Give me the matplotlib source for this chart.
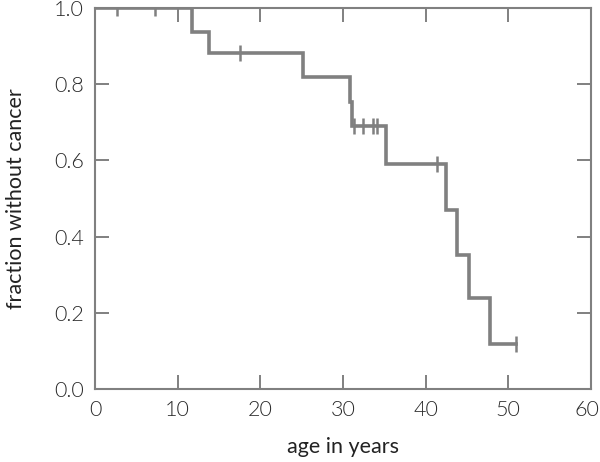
import numpy as np
import matplotlib
matplotlib.use('Agg')
import matplotlib.pyplot as plt
import matplotlib.transforms as mtransforms

# step curve: time at which each drop happens and the level after it
drop_age = [0, 11.7, 13.8, 25.2, 30.8, 31.1, 35.2, 42.5, 43.8, 45.3, 47.8]
surv = [1.0, 0.938, 0.882, 0.820, 0.754, 0.689, 0.591, 0.470, 0.352, 0.240, 0.118]
end_age = 50.9

# censored observations (tick marks)
cens_age = [2.7, 7.3, 17.5, 31.3, 32.4, 33.6, 34.1, 41.4, 50.9]

xticks = [0, 10, 20, 30, 40, 50, 60]
yticks = [0.0, 0.2, 0.4, 0.6, 0.8, 1.0]

plt.rcParams['font.family'] = ['Lato', 'DejaVu Sans']
plt.rcParams['font.weight'] = 300

line_col = '#808080'
fig = plt.figure(figsize=(6.0, 4.62), dpi=100)
ax = fig.add_axes([95/600, 1-389/462, (591-95)/600, (389-8)/462])

x = list(drop_age) + [end_age]
y = list(surv) + [surv[-1]]
ax.step(x, y, where='post', color=line_col, lw=2.6, solid_joinstyle='miter')

# level of the curve at each censored time
cy = []
for c in cens_age:
    idx = np.searchsorted(drop_age, c, side='right') - 1
    cy.append(surv[idx])
ax.plot(cens_age, cy, ls='none', marker='|', ms=11, mew=1.8, color=line_col)

ax.set_xlim(0, 60)
ax.set_ylim(0, 1.0)
ax.set_xticks(xticks)
ax.set_yticks(yticks)
ax.set_yticklabels(['%.1f' % v for v in yticks])
ax.tick_params(direction='in', length=10, width=1.4, color=line_col,
               top=True, right=True, labelsize=15.5, labelcolor='#2a2a2a', pad=8)
for s in ax.spines.values():
    s.set_color(line_col)
    s.set_linewidth(1.5)

# last x label sits a little inside so it is not cut at the figure edge
last = ax.get_xticklabels()[-1]
last.set_transform(last.get_transform() + mtransforms.ScaledTranslation(-4/100, 0, fig.dpi_scale_trans))

ax.set_xlabel('age in years', fontsize=15.5, color='#222222', labelpad=12)
ax.set_ylabel('fraction without cancer', fontsize=15.5, color='#222222', labelpad=20)

fig.savefig('out.png', dpi=100)
